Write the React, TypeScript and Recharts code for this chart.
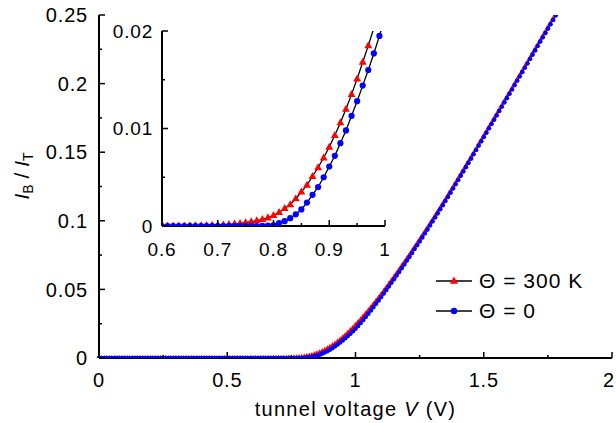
import { LineChart, Line, XAxis, YAxis, Label } from "recharts";

// tunnel voltage V (V), step 0.01
const voltage = [
  0, 0.01, 0.02, 0.03, 0.04, 0.05, 0.06, 0.07, 0.08, 0.09,
  0.1, 0.11, 0.12, 0.13, 0.14, 0.15, 0.16, 0.17, 0.18, 0.19,
  0.2, 0.21, 0.22, 0.23, 0.24, 0.25, 0.26, 0.27, 0.28, 0.29,
  0.3, 0.31, 0.32, 0.33, 0.34, 0.35, 0.36, 0.37, 0.38, 0.39,
  0.4, 0.41, 0.42, 0.43, 0.44, 0.45, 0.46, 0.47, 0.48, 0.49,
  0.5, 0.51, 0.52, 0.53, 0.54, 0.55, 0.56, 0.57, 0.58, 0.59,
  0.6, 0.61, 0.62, 0.63, 0.64, 0.65, 0.66, 0.67, 0.68, 0.69,
  0.7, 0.71, 0.72, 0.73, 0.74, 0.75, 0.76, 0.77, 0.78, 0.79,
  0.8, 0.81, 0.82, 0.83, 0.84, 0.85, 0.86, 0.87, 0.88, 0.89,
  0.9, 0.91, 0.92, 0.93, 0.94, 0.95, 0.96, 0.97, 0.98, 0.99,
  1, 1.01, 1.02, 1.03, 1.04, 1.05, 1.06, 1.07, 1.08, 1.09,
  1.1, 1.11, 1.12, 1.13, 1.14, 1.15, 1.16, 1.17, 1.18, 1.19,
  1.2, 1.21, 1.22, 1.23, 1.24, 1.25, 1.26, 1.27, 1.28, 1.29,
  1.3, 1.31, 1.32, 1.33, 1.34, 1.35, 1.36, 1.37, 1.38, 1.39,
  1.4, 1.41, 1.42, 1.43, 1.44, 1.45, 1.46, 1.47, 1.48, 1.49,
  1.5, 1.51, 1.52, 1.53, 1.54, 1.55, 1.56, 1.57, 1.58, 1.59,
  1.6, 1.61, 1.62, 1.63, 1.64, 1.65, 1.66, 1.67, 1.68, 1.69,
  1.7, 1.71, 1.72, 1.73, 1.74, 1.75, 1.76, 1.77, 1.78, 1.79,
  1.8,
];

// I_B / I_T at Θ = 300 K
const ratio300K = [
  0, 0, 0, 0, 0, 0, 0, 0, 0, 0,
  0, 0, 0, 0, 0, 0, 0, 0, 0, 0,
  0, 0, 0, 0, 0, 0, 0, 0, 0, 0,
  0, 0, 0, 0, 0, 0, 0, 0, 0, 0,
  0, 0, 0, 0, 0, 0, 0, 0, 0, 0,
  0, 0, 0, 0, 0, 0, 0, 0, 0, 0,
  0.00001, 0.00001, 0.00001, 0.00002, 0.00002, 0.00003, 0.00004, 0.00005, 0.00006, 0.00008,
  0.0001, 0.00013, 0.00017, 0.00022, 0.00028, 0.00035, 0.00044, 0.00055, 0.00068, 0.00085,
  0.0011, 0.0014, 0.0018, 0.0022, 0.0028, 0.0035, 0.0042, 0.0051, 0.006, 0.007,
  0.0081, 0.0093, 0.0106, 0.012, 0.0135, 0.0151, 0.0168, 0.0185, 0.0203, 0.0222,
  0.0241, 0.0261, 0.0282, 0.0303, 0.0325, 0.0347, 0.037, 0.0393, 0.0417, 0.0441,
  0.0465, 0.049, 0.0515, 0.054, 0.0566, 0.0592, 0.0618, 0.0644, 0.0671, 0.0698,
  0.0725, 0.0752, 0.078, 0.0808, 0.0836, 0.0864, 0.0892, 0.092, 0.0949, 0.0978,
  0.1007, 0.1036, 0.1065, 0.1095, 0.1125, 0.1155, 0.1185, 0.1215, 0.1245, 0.1276,
  0.1307, 0.1338, 0.1369, 0.14, 0.1431, 0.1462, 0.1494, 0.1525, 0.1557, 0.1588,
  0.162, 0.1651, 0.1683, 0.1714, 0.1746, 0.1777, 0.1809, 0.184, 0.1872, 0.1903,
  0.1935, 0.1966, 0.1998, 0.203, 0.2061, 0.2093, 0.2125, 0.2156, 0.2188, 0.222,
  0.2251, 0.2283, 0.2315, 0.2346, 0.2378, 0.241, 0.2441, 0.2473, 0.2505, 0.2537,
  0.2568,
];

// I_B / I_T at Θ = 0
const ratio0K = [
  0, 0, 0, 0, 0, 0, 0, 0, 0, 0,
  0, 0, 0, 0, 0, 0, 0, 0, 0, 0,
  0, 0, 0, 0, 0, 0, 0, 0, 0, 0,
  0, 0, 0, 0, 0, 0, 0, 0, 0, 0,
  0, 0, 0, 0, 0, 0, 0, 0, 0, 0,
  0, 0, 0, 0, 0, 0, 0, 0, 0, 0,
  0, 0, 0, 0, 0, 0, 0, 0, 0, 0,
  0, 0, 0, 0, 0, 0, 0, 0, 0.00002, 0.00005,
  0.0001, 0.0003, 0.0005, 0.0008, 0.0012, 0.0017, 0.0024, 0.0032, 0.004, 0.005,
  0.0061, 0.0072, 0.0085, 0.0098, 0.0113, 0.0128, 0.0144, 0.016, 0.0177, 0.0195,
  0.0213, 0.0234, 0.0256, 0.0277, 0.03, 0.0323, 0.0347, 0.0371, 0.0395, 0.042,
  0.0445, 0.047, 0.0496, 0.0521, 0.0548, 0.0574, 0.0601, 0.0627, 0.0655, 0.0682,
  0.071, 0.0737, 0.0765, 0.0794, 0.0822, 0.085, 0.0879, 0.0907, 0.0936, 0.0966,
  0.0995, 0.1024, 0.1054, 0.1084, 0.1114, 0.1144, 0.1174, 0.1205, 0.1235, 0.1266,
  0.1297, 0.1329, 0.136, 0.1391, 0.1422, 0.1453, 0.1485, 0.1516, 0.1548, 0.1579,
  0.1611, 0.1642, 0.1674, 0.1705, 0.1737, 0.1768, 0.18, 0.1831, 0.1863, 0.1894,
  0.1926, 0.1957, 0.1989, 0.2021, 0.2052, 0.2084, 0.2116, 0.2147, 0.2179, 0.2211,
  0.2242, 0.2274, 0.2306, 0.2337, 0.2369, 0.2401, 0.2432, 0.2464, 0.2496, 0.2528,
  0.2559,
];

const mainXTicks = [0, 0.25, 0.5, 0.75, 1, 1.25, 1.5, 1.75, 2];
const mainXLabels = [0, 0.5, 1, 1.5, 2];
const mainYTicks = [0, 0.025, 0.05, 0.075, 0.1, 0.125, 0.15, 0.175, 0.2, 0.225, 0.25];
const mainYLabels = [0, 0.05, 0.1, 0.15, 0.2, 0.25];

const insetXTicks = [0.6, 0.65, 0.7, 0.75, 0.8, 0.85, 0.9, 0.95, 1];
const insetXLabels = [0.6, 0.7, 0.8, 0.9, 1];
const insetYTicks = [0, 0.005, 0.01, 0.015, 0.02];
const insetYLabels = [0, 0.01, 0.02];

const legendLabels = ["Θ = 300 K", "Θ = 0"];

const FONT = '"Liberation Sans", Arial, Helvetica, sans-serif';
const RED = "#ff0000";
const BLUE = "#0000ff";

const rows = voltage.map((v, i) => ({ v, hot: ratio300K[i], cold: ratio0K[i] }));
const insetRows = rows.filter((r) => r.v > 0.595 && r.v < 1.005);

const isIn = (list: number[], v: number) => list.some((l) => Math.abs(l - v) < 1e-9);

const XTick = (props: any) => {
  const { x, y, payload, labels, side, gap, fontSize, maxX } = props;
  const major = isIn(labels, payload.value);
  const len = major ? 6 : 3;
  const dir = side === "top" ? 1 : -1;
  // keep the last label inside the picture
  const tx = maxX != null ? Math.min(x, maxX) : x;
  return (
    <g>
      <line x1={x} y1={y} x2={x} y2={y + dir * len} stroke="#000" strokeWidth={1.5} />
      {side === "bottom" && major && (
        <text x={tx} y={y + gap} textAnchor="middle" fontFamily={FONT} fontSize={fontSize} letterSpacing={0.8} fill="#000">
          {String(payload.value)}
        </text>
      )}
    </g>
  );
};

const YTick = (props: any) => {
  const { x, y, payload, labels, side, gap, fontSize } = props;
  const major = isIn(labels, payload.value);
  const len = major ? 6 : 3;
  const dir = side === "left" ? 1 : -1;
  return (
    <g>
      <line x1={x} y1={y} x2={x + dir * len} y2={y} stroke="#000" strokeWidth={1.5} />
      {side === "left" && major && (
        <text x={x - gap} y={y} dy="0.36em" textAnchor="end" fontFamily={FONT} fontSize={fontSize} letterSpacing={0.8} fill="#000">
          {String(payload.value)}
        </text>
      )}
    </g>
  );
};

const Triangle = (props: any) => {
  const { cx, cy, size } = props;
  if (cx == null || cy == null) return null;
  const h = size * 0.9;
  const pts = `${cx},${cy - h * 0.62} ${cx - size / 2},${cy + h * 0.38} ${cx + size / 2},${cy + h * 0.38}`;
  return <polygon points={pts} fill={RED} stroke="none" />;
};

const Circle = (props: any) => {
  const { cx, cy, r } = props;
  if (cx == null || cy == null) return null;
  return <circle cx={cx} cy={cy} r={r} fill={BLUE} stroke="none" />;
};

const XTitle = (props: any) => {
  const vb = props.viewBox || { x: 99, y: 358, width: 513 };
  return (
    <text x={vb.x + vb.width / 2} y={vb.y + 58} textAnchor="middle" fontFamily={FONT} fontSize={20} letterSpacing={1.3} fill="#000" style={{ whiteSpace: "pre" }}>
      tunnel voltage <tspan fontStyle="italic">V</tspan> (V)
    </text>
  );
};

const YTitle = () => {
  const cx = 22;
  const cy = 176;
  return (
    <text x={cx} y={cy} dy={7} transform={`rotate(-90 ${cx} ${cy})`} textAnchor="middle" fontFamily={FONT} fontSize={21} fill="#000" style={{ whiteSpace: "pre" }}>
      <tspan fontStyle="italic">I</tspan>
      <tspan fontSize={14} dy={4}>B</tspan>
      <tspan dy={-4}> / </tspan>
      <tspan fontStyle="italic">I</tspan>
      <tspan fontSize={14} dy={4}>T</tspan>
    </text>
  );
};

const axisLine = { stroke: "#000", strokeWidth: 2 };

const MainChart = () => (
  <LineChart width={616} height={423} data={rows} margin={{ top: 15, right: 4, bottom: 25, left: 39 }}>
    <XAxis
      dataKey="v"
      type="number"
      domain={[0, 2]}
      ticks={mainXTicks}
      interval={0}
      height={40}
      tickSize={0}
      tickMargin={0}
      axisLine={axisLine}
      tickLine={false}
      tick={<XTick labels={mainXLabels} side="bottom" gap={29} fontSize={20} maxX={609} />}
    >
      <Label content={<XTitle />} />
    </XAxis>
    <XAxis
      xAxisId="top"
      orientation="top"
      dataKey="v"
      type="number"
      domain={[0, 2]}
      ticks={mainXTicks}
      interval={0}
      height={0}
      tickSize={0}
      tickMargin={0}
      axisLine={axisLine}
      tickLine={false}
      tick={<XTick labels={mainXLabels} side="top" gap={0} fontSize={20} />}
    />
    <YAxis
      type="number"
      domain={[0, 0.25]}
      allowDataOverflow
      ticks={mainYTicks}
      interval={0}
      width={60}
      tickSize={0}
      tickMargin={0}
      axisLine={axisLine}
      tickLine={false}
      tick={<YTick labels={mainYLabels} side="left" gap={11} fontSize={20} />}
    >
      <Label content={<YTitle />} />
    </YAxis>
    <YAxis
      yAxisId="right"
      orientation="right"
      type="number"
      domain={[0, 0.25]}
      ticks={mainYTicks}
      interval={0}
      width={0}
      tickSize={0}
      tickMargin={0}
      axisLine={axisLine}
      tickLine={false}
      tick={<YTick labels={mainYLabels} side="right" gap={0} fontSize={20} />}
    />
    <Line
      type="linear"
      dataKey="hot"
      stroke="#000"
      strokeWidth={1}
      dot={<Triangle size={5.5} />}
      activeDot={false}
      isAnimationActive={false}
    />
    <Line
      type="linear"
      dataKey="cold"
      stroke="#000"
      strokeWidth={1}
      dot={<Circle r={2.3} />}
      activeDot={false}
      isAnimationActive={false}
    />
  </LineChart>
);

const InsetChart = () => (
  <LineChart width={300} height={250} data={insetRows} margin={{ top: 11, right: 15, bottom: 14, left: 22 }}>
    <XAxis
      dataKey="v"
      type="number"
      domain={[0.6, 1]}
      allowDataOverflow
      ticks={insetXTicks}
      interval={0}
      height={30}
      tickSize={0}
      tickMargin={0}
      axisLine={axisLine}
      tickLine={false}
      tick={<XTick labels={insetXLabels} side="bottom" gap={30} fontSize={19} />}
    />
    <YAxis
      type="number"
      domain={[0, 0.02]}
      allowDataOverflow
      ticks={insetYTicks}
      interval={0}
      width={40}
      tickSize={0}
      tickMargin={0}
      axisLine={axisLine}
      tickLine={false}
      tick={<YTick labels={insetYLabels} side="left" gap={9} fontSize={19} />}
    />
    <Line
      type="linear"
      dataKey="hot"
      stroke="#000"
      strokeWidth={1.3}
      dot={<Triangle size={7.8} />}
      activeDot={false}
      isAnimationActive={false}
    />
    <Line
      type="linear"
      dataKey="cold"
      stroke="#000"
      strokeWidth={1.3}
      dot={<Circle r={3.1} />}
      activeDot={false}
      isAnimationActive={false}
    />
  </LineChart>
);

const LegendBox = () => (
  <div style={{ position: "absolute", left: 436, top: 266, fontFamily: FONT, fontSize: 21, letterSpacing: 1, color: "#000" }}>
    {legendLabels.map((label, i) => (
      <div key={label} style={{ display: "flex", alignItems: "center", height: 30 }}>
        <svg width={36} height={24} style={{ display: "block" }}>
          <line x1={0} y1={12} x2={36} y2={12} stroke="#000" strokeWidth={1.3} />
          {i === 0 ? <Triangle cx={18} cy={12} size={8} /> : <Circle cx={18} cy={12} r={3.2} />}
        </svg>
        <span style={{ marginLeft: 7, lineHeight: "24px", whiteSpace: "pre" }}>{label}</span>
      </div>
    ))}
  </div>
);

export default function App() {
  return (
    <div style={{ position: "absolute", left: 0, top: 0, width: 616, height: 423, background: "#fff" }}>
      <MainChart />
      <div style={{ position: "absolute", left: 100, top: 20 }}>
        <InsetChart />
      </div>
      <LegendBox />
    </div>
  );
}
